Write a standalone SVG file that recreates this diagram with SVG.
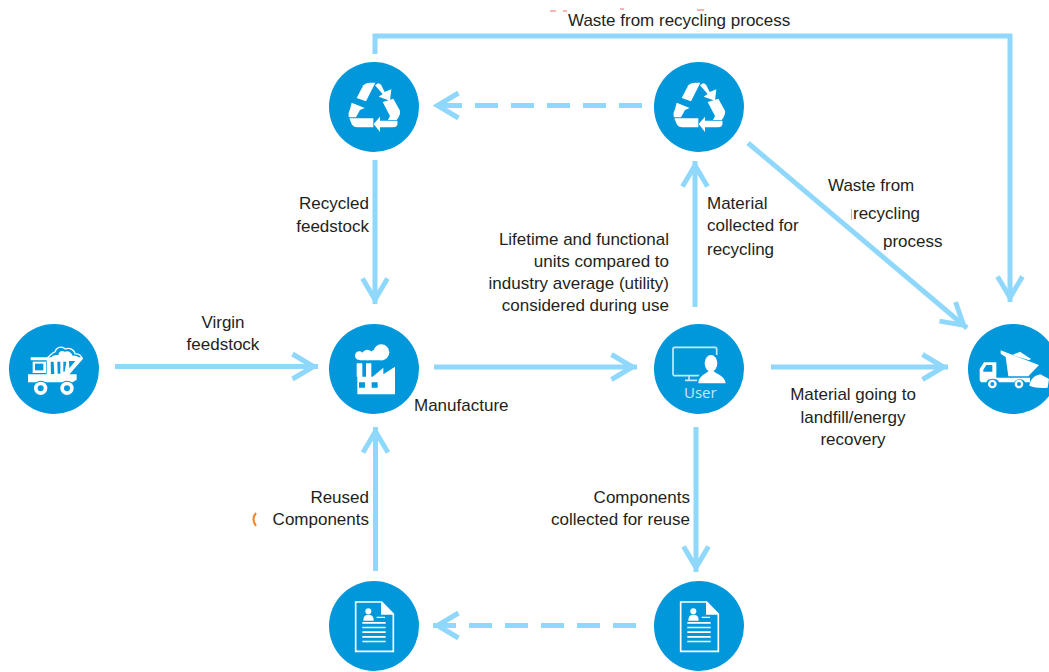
<svg xmlns="http://www.w3.org/2000/svg" width="1049" height="672" viewBox="0 0 1049 672">
<style>
.c{fill:#0098da}
.l{fill:none;stroke:#8fd8fb;stroke-width:5}
.d{stroke-dasharray:23 13}
.w{fill:#fff}
.b{fill:#0098da}
.o{fill:none;stroke:#fff}
text{font-family:"Liberation Sans",Arial,sans-serif;font-size:17px;fill:#231f20}
.e{text-anchor:end}.m{text-anchor:middle}
.u{font-family:"Open Sans","Liberation Sans",sans-serif;font-size:15px;fill:#c4ebfb}
</style>
<defs>
<marker id="a" markerUnits="userSpaceOnUse" markerWidth="30" markerHeight="34" refX="29.500" refY="17" orient="auto" overflow="visible">
<path d="M4 4.500L25 17L4 29.500" fill="none" stroke="#8fd8fb" stroke-width="5"/>
</marker>
<g id="recycle" transform="scale(.3333)">
<path class="w" d="M50 84L70 46Q76 38 88 38H106L78 94Z"/>
<path class="w" d="M105 46L114 40Q120 40 124 46L134 66L154 58L150 92L116 80L128 72Z"/>
<path class="w" d="M128 96L160 86L180 122Q182 135 170 150H144L150 138Z"/>
<path class="w" d="M172 152Q176 172 158 172H120V186L101 162L120 140V152Z"/>
<path class="w" d="M28 145H100V172H52Q42 172 36 164Z"/>
<path class="w" d="M26 140Q24 128 30 118L35 98L74 114L60 120L48 142H30Z"/>
</g>
<g id="doc" transform="scale(.3333)">
<path class="o" stroke-width="5" d="M32 30H110L145 66V178H32Z"/>
<path class="w" d="M108 30L146 68H108Z"/>
<circle class="w" cx="70" cy="58" r="9"/>
<path class="w" d="M55 86C55 72 62 68 70 68C80 68 86 72 86 86Z"/>
<path class="w" d="M95 74H120V78H95ZM52 90H122V95H52ZM52 104H122V109H52ZM52 118H122V123H52ZM52 132H122V137H52ZM52 146H122V151H52Z"/>
</g>
</defs>
<rect width="1049" height="672" fill="#fff"/>
<g id="connectors">
<path class="l" d="M375 54V36H1010V302" marker-end="url(#a)"/>
<path class="l d" d="M642 105.500H433" marker-end="url(#a)"/>
<path class="l" d="M375 160V304" marker-end="url(#a)"/>
<path class="l" d="M115 366.500H318" marker-end="url(#a)"/>
<path class="l" d="M434 367H637" marker-end="url(#a)"/>
<path class="l" d="M771 367H948" marker-end="url(#a)"/>
<path class="l" d="M695 307V161" marker-end="url(#a)"/>
<path class="l" d="M748 143L967 328" marker-end="url(#a)"/>
<path class="l" d="M696 427V572" marker-end="url(#a)"/>
<path class="l" d="M375.500 571V427" marker-end="url(#a)"/>
<path class="l d" d="M636 625.500H433" marker-end="url(#a)"/>
</g>
<g id="node-recycled">
<circle class="c" cx="374" cy="107" r="45"/>
<use href="#recycle" transform="translate(340 70)"/>
</g>
<g id="node-collected">
<circle class="c" cx="699" cy="107" r="45"/>
<use href="#recycle" transform="translate(665 70)"/>
</g>
<g id="node-virgin">
<circle class="c" cx="54" cy="369" r="45"/>
<g transform="translate(20 335) scale(.3333)">
<path class="o" stroke-width="4" d="M82 68C92 60 98 52 106 50C108 36 126 32 136 42C150 36 164 46 165 56C178 56 186 64 186 72"/>
<path class="w" d="M115 60Q118 44 134 50Q150 44 158 62Q172 60 178 70H90Q100 58 115 60Z"/>
<path class="w" d="M32 67H188V73L142 125H80V76H32Z"/>
<path class="b" d="M92 80H101L103 118H93ZM112 80H121V116H113ZM130 80H139L134 110H130ZM147 78H166L148 100Z"/>
<path class="w" d="M38 80H78V114H38Z"/>
<path class="b" d="M45 86H70V106H45Z"/>
<path class="w" d="M24 118H170V134L158 142H24Z"/>
<circle class="b" cx="62" cy="160" r="23"/>
<circle class="b" cx="141" cy="160" r="23"/>
<circle class="w" cx="62" cy="160" r="20"/>
<circle class="w" cx="141" cy="160" r="20"/>
<circle class="b" cx="62" cy="160" r="9"/>
<circle class="b" cx="141" cy="160" r="9"/>
</g>
</g>
<g id="node-manufacture">
<circle class="c" cx="374" cy="369" r="45"/>
<g transform="translate(340 335) scale(.3333)">
<path class="w" d="M52 178V125H50V85H67V125H78V85H94V125H98L130 98V118L165 95V178Z"/>
<path class="b" d="M57 142H75V158H57ZM95 142H113V158H95Z"/>
<circle class="w" cx="58" cy="62" r="13"/>
<circle class="w" cx="82" cy="60" r="16"/>
<circle class="w" cx="104" cy="58" r="13"/>
<circle class="w" cx="124" cy="52" r="24"/>
<path class="w" d="M46 62H130V76H60Z"/>
</g>
</g>
<g id="node-user">
<circle class="c" cx="699" cy="369" r="45"/>
<g transform="translate(665 335) scale(.3333)">
<path fill="none" stroke="#c4ebfb" stroke-width="5" d="M30 37H150Q155 37 155 42V60M105 122H30Q24 122 24 116V42Q24 37 30 37"/>
<path fill="none" stroke="#c4ebfb" stroke-width="5" d="M60 136H100M72 124V136"/>
<path class="b" d="M95 150C95 125 108 112 116 108C108 80 120 58 138 58C156 58 168 80 160 108C172 112 190 122 190 150Z"/>
<ellipse class="w" cx="138" cy="85" rx="19" ry="25"/>
<path class="w" d="M100 145C100 122 122 118 130 108H146C154 118 180 122 182 145Z"/>
</g>
<text class="u" x="684" y="398">User</text>
</g>
<g id="node-landfill">
<circle class="c" cx="1013" cy="369" r="45"/>
<g transform="translate(975 335) scale(.3333)">
<path class="w" d="M14 136V102L27 82H64V128H165V142H150C146 130 122 130 118 142H72C68 128 38 128 34 142H18Z"/>
<path class="b" d="M25 104L34 90H52V110H25Z"/>
<path class="w" d="M77 46L192 90L160 124H100L92 66L77 56Z"/>
<path class="w" d="M112 60L135 50L168 72L162 76Z"/>
<path class="w" d="M163 152C165 136 175 122 196 118L222 132L218 158C198 160 178 158 163 152Z"/>
<circle class="w" cx="52" cy="147" r="13"/>
<circle class="b" cx="52" cy="147" r="6"/>
<circle class="w" cx="132" cy="147" r="13"/>
<circle class="b" cx="132" cy="147" r="6"/>
</g>
</g>
<g id="node-reused">
<circle class="c" cx="374" cy="626" r="45"/>
<use href="#doc" transform="translate(345 592)"/>
</g>
<g id="node-components">
<circle class="c" cx="699" cy="626" r="45"/>
<use href="#doc" transform="translate(670 592)"/>
</g>
<g id="labels">
<text x="568" y="26">Waste from recycling process</text>
<text class="e" x="369" y="209">Recycled</text>
<text class="e" x="369" y="232">feedstock</text>
<text class="m" x="223" y="328">Virgin</text>
<text class="m" x="223" y="350">feedstock</text>
<text x="414" y="411">Manufacture</text>
<text class="e" x="669" y="245">Lifetime and functional</text>
<text class="e" x="669" y="267">units compared to</text>
<text class="e" x="669" y="289">industry average (utility)</text>
<text class="e" x="669" y="311">considered during use</text>
<text x="707" y="209">Material</text>
<text x="707" y="231">collected for</text>
<text x="707" y="255">recycling</text>
<text x="828" y="191">Waste from</text>
<text x="853" y="219">recycling</text>
<text x="883" y="247">process</text>
<text class="m" x="853" y="400">Material going to</text>
<text class="m" x="853" y="423">landfill/energy</text>
<text class="m" x="853" y="445">recovery</text>
<text class="e" x="369" y="503">Reused</text>
<text class="e" x="369" y="525">Components</text>
<text class="e" x="690" y="503">Components</text>
<text class="e" x="690" y="525">collected for reuse</text>
</g>
<path d="M256 513Q251 519 256 526" fill="none" stroke="#f58220" stroke-width="2"/>
<path d="M851.500 209V220" fill="none" stroke="#f7a3a8" stroke-width="1"/>
<path d="M550 11H556M563 11H567M620 9H624M697 10H704" fill="none" stroke="#f26a6a" stroke-width="1"/>
</svg>
